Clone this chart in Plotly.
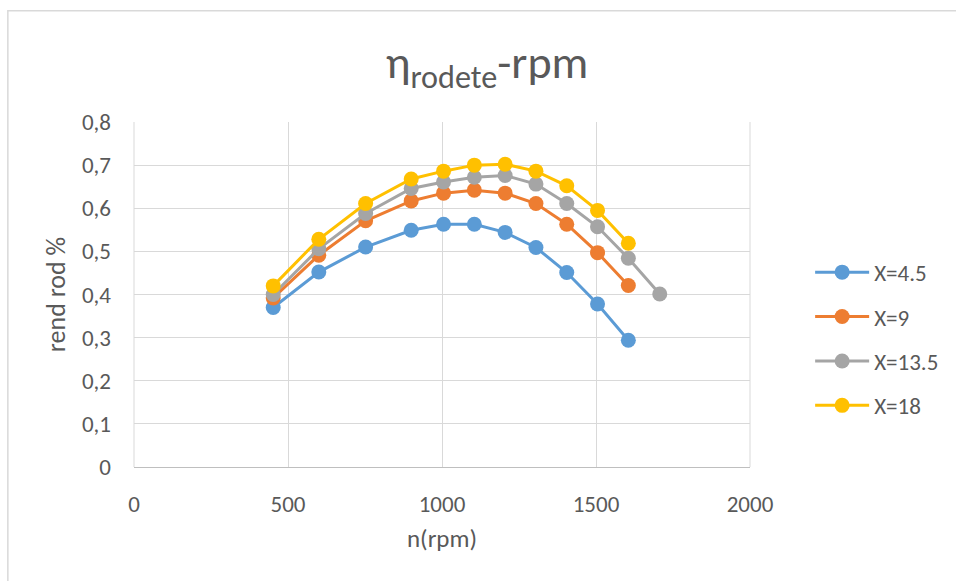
import plotly.graph_objects as go

rpm_a = [452, 600, 752, 900, 1005, 1105, 1205, 1305, 1405, 1505, 1605]
rpm_b = [452, 600, 752, 900, 1005, 1105, 1205, 1305, 1405, 1505, 1605, 1707]

eff_x45 = [0.370, 0.452, 0.510, 0.549, 0.563, 0.563, 0.544, 0.509, 0.451, 0.378, 0.294]
eff_x9 = [0.392, 0.491, 0.571, 0.617, 0.635, 0.642, 0.635, 0.611, 0.563, 0.497, 0.421]
eff_x135 = [0.400, 0.506, 0.588, 0.646, 0.661, 0.672, 0.676, 0.656, 0.611, 0.557, 0.484, 0.401]
eff_x18 = [0.420, 0.528, 0.611, 0.668, 0.686, 0.700, 0.702, 0.686, 0.652, 0.595, 0.519]

names = ["X=4.5", "X=9", "X=13.5", "X=18"]
colors = ["#5b9bd5", "#ed7d31", "#a5a5a5", "#ffc000"]
series = [(rpm_a, eff_x45), (rpm_a, eff_x9), (rpm_b, eff_x135), (rpm_a, eff_x18)]

x_ticks = [0, 500, 1000, 1500, 2000]
y_ticks = [0, 0.1, 0.2, 0.3, 0.4, 0.5, 0.6, 0.7, 0.8]

FONT = "Carlito, Lato, 'Open Sans', sans-serif"
TXT = "#595959"

fig = go.Figure()
for i, ((xs, ys), nm, col) in enumerate(zip(series, names, colors)):
    fig.add_trace(go.Scatter(
        x=xs, y=ys, name=nm, mode="lines+markers",
        line=dict(color=col, width=3),
        marker=dict(color=col, size=15),
        legendgroup=nm,
    ))

W, H = 956, 581
L, R, T, B = 134, 751.7, 122.3, 467.3
pw, ph = R - L, B - T

def px(x):
    return (x - L) / pw

def py(y):
    return (B - y) / ph

fig.update_layout(
    width=W, height=H,
    margin=dict(l=L, r=W - R, t=T, b=H - B),
    paper_bgcolor="white", plot_bgcolor="white",
    separators=",.",
    font=dict(family=FONT, color=TXT, size=22),
    title=dict(text="η<sub>rodete</sub>-rpm", x=487 / W, xanchor="center",
               y=1 - 62 / H, yanchor="middle", xref="container", yref="container",
               font=dict(size=46, color=TXT, family=FONT)),
    xaxis=dict(range=[0, 2000], tickvals=x_ticks, showgrid=True, gridcolor="#d9d9d9",
               gridwidth=1, zeroline=False, showline=True, linecolor="#bfbfbf", linewidth=1,
               mirror=False, ticks="", ticklabelstandoff=16,
               tickfont=dict(size=23, color=TXT),
               title=dict(text="n(rpm)", font=dict(size=25, color=TXT), standoff=12)),
    yaxis=dict(range=[0, 0.8], tickvals=y_ticks, showgrid=True, gridcolor="#d9d9d9",
               gridwidth=1, zeroline=False, showline=False, ticks="", ticklabelstandoff=22,
               tickformat=".1~f",
               tickfont=dict(size=23, color=TXT),
               title=dict(text="rend rod %", font=dict(size=26, color=TXT), standoff=8)),
    legend=dict(x=px(812), y=py(251), xanchor="left", yanchor="top",
                font=dict(size=23, color=TXT), tracegroupgap=11.5, itemwidth=54,
                bgcolor="rgba(0,0,0,0)"),
    shapes=[
        dict(type="rect", xref="paper", yref="paper", x0=px(7.5), x1=px(1000), y0=py(11), y1=py(700),
             line=dict(color="#d9d9d9", width=1.5), fillcolor="rgba(0,0,0,0)", layer="below"),
        dict(type="line", xref="paper", yref="paper", x0=1, x1=1, y0=0, y1=1,
             line=dict(color="#d9d9d9", width=1), layer="below"),
        dict(type="line", xref="paper", yref="paper", x0=0, x1=0, y0=0, y1=1,
             line=dict(color="#d9d9d9", width=1), layer="below"),
    ],
)

fig.write_html("out.html")
